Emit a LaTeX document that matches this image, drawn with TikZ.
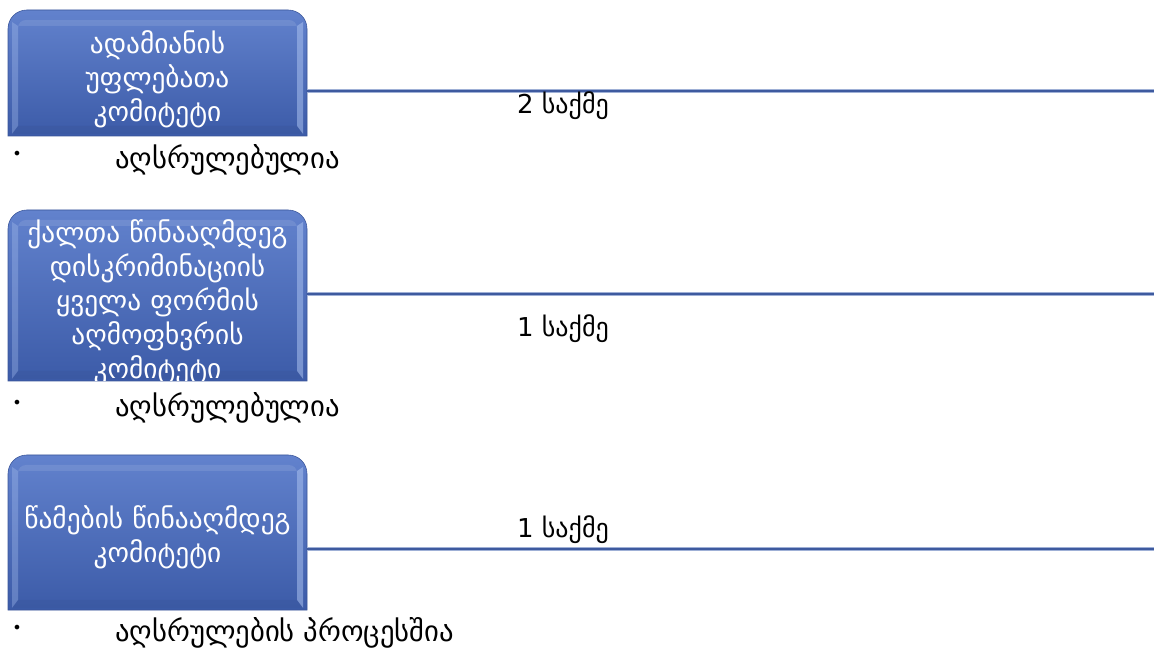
\documentclass[tikz,border=0pt]{standalone}
\usepackage{fontspec}
\setmainfont{DejaVu Sans}
\definecolor{boxtop}{HTML}{6282CD}
\definecolor{boxbot}{HTML}{3C5BA8}
\definecolor{boxedge}{HTML}{3A5599}
\definecolor{bevlight}{HTML}{A9C0EE}
\definecolor{linec}{HTML}{3E5A9F}
\definecolor{lineedge}{HTML}{9FB0D6}
\begin{document}
\begin{tikzpicture}[x=0.75pt,y=-0.75pt,
  boxtext/.style={text=white,font=\fontsize{20.5}{25.5}\selectfont,align=center,
    text width=215pt,minimum width=224pt,inner sep=0pt},
  conn/.style={draw=linec,line width=2.2pt},
  connedge/.style={draw=lineedge,line width=3.2pt},
  casetext/.style={font=\fontsize{19.5}{22}\selectfont,text=black,inner sep=0pt},
  bullettext/.style={font=\fontsize{21.5}{24}\selectfont,text=black,anchor=west,inner sep=0pt},
  bulletdot/.style={font=\fontsize{12}{14}\selectfont,text=black,inner sep=0pt}]
\useasboundingbox (0,0) rectangle (1154,648);
\fill[white] (0,0) rectangle (1154,648);

% box shapes
\foreach \t/\b in {10/136, 210/381, 455/610}{
  \shade[top color=boxtop,bottom color=boxbot,draw=boxedge,line width=0.4pt]
    (8,\b) [rounded corners=14pt] -- (8,\t) -- (307,\t) [sharp corners] -- (307,\b) -- cycle;
  % bevel highlights
  \fill[bevlight,opacity=0.55] (297,\t+16) -- (303,\t+12) -- (303,\b-2) -- (297,\b-10) -- cycle;
  \fill[bevlight,opacity=0.35] (12,\t+12) -- (18,\t+16) -- (18,\b-10) -- (12,\b-2) -- cycle;
  \fill[boxedge,opacity=0.35] (18,\b-10) -- (297,\b-10) -- (303,\b-2) -- (12,\b-2) -- cycle;
  \fill[white,opacity=0.10] (18,\t+16) [rounded corners=6pt] -- (18,\t+10) -- (297,\t+10) [sharp corners] -- (297,\t+16) -- cycle;
}

% box texts
\node[boxtext] (b1) at (157.5,79) {ადამიანის\\უფლებათა\\კომიტეტი};
\begin{scope}
  \clip (8,381) -- (8,210) -- (307,210) -- (307,381) -- cycle;
  \node[boxtext] (b2) at (157.5,302) {ქალთა წინააღმდეგ\\დისკრიმინაციის\\ყველა ფორმის\\აღმოფხვრის\\კომიტეტი};
\end{scope}
\node[boxtext] (b3) at (157.5,537) {წამების წინააღმდეგ\\კომიტეტი};

% connectors
\coordinate (e1) at (1154,91);
\coordinate (e2) at (1154,294);
\coordinate (e3) at (1154,549);
\coordinate (s1) at (307,91);
\coordinate (s2) at (307,294);
\coordinate (s3) at (307,549);
\foreach \i in {1,2,3}{
  \draw[connedge] (s\i) -- (e\i);
  \draw[conn] (s\i) -- (e\i);
}

% case counts
\node[casetext] (c1) at (563,106) {2 საქმე};
\node[casetext] (c2) at (563,329) {1 საქმე};
\node[casetext] (c3) at (563,530) {1 საქმე};

% bullets
\node[bulletdot] (d1) at (17,155) {•};
\node[bullettext] (t1) at (115,160) {აღსრულებულია};
\node[bulletdot] (d2) at (17,404) {•};
\node[bullettext] (t2) at (115,408) {აღსრულებულია};
\node[bulletdot] (d3) at (17,629) {•};
\node[bullettext] (t3) at (115,633) {აღსრულების პროცესშია};
\end{tikzpicture}
\end{document}
